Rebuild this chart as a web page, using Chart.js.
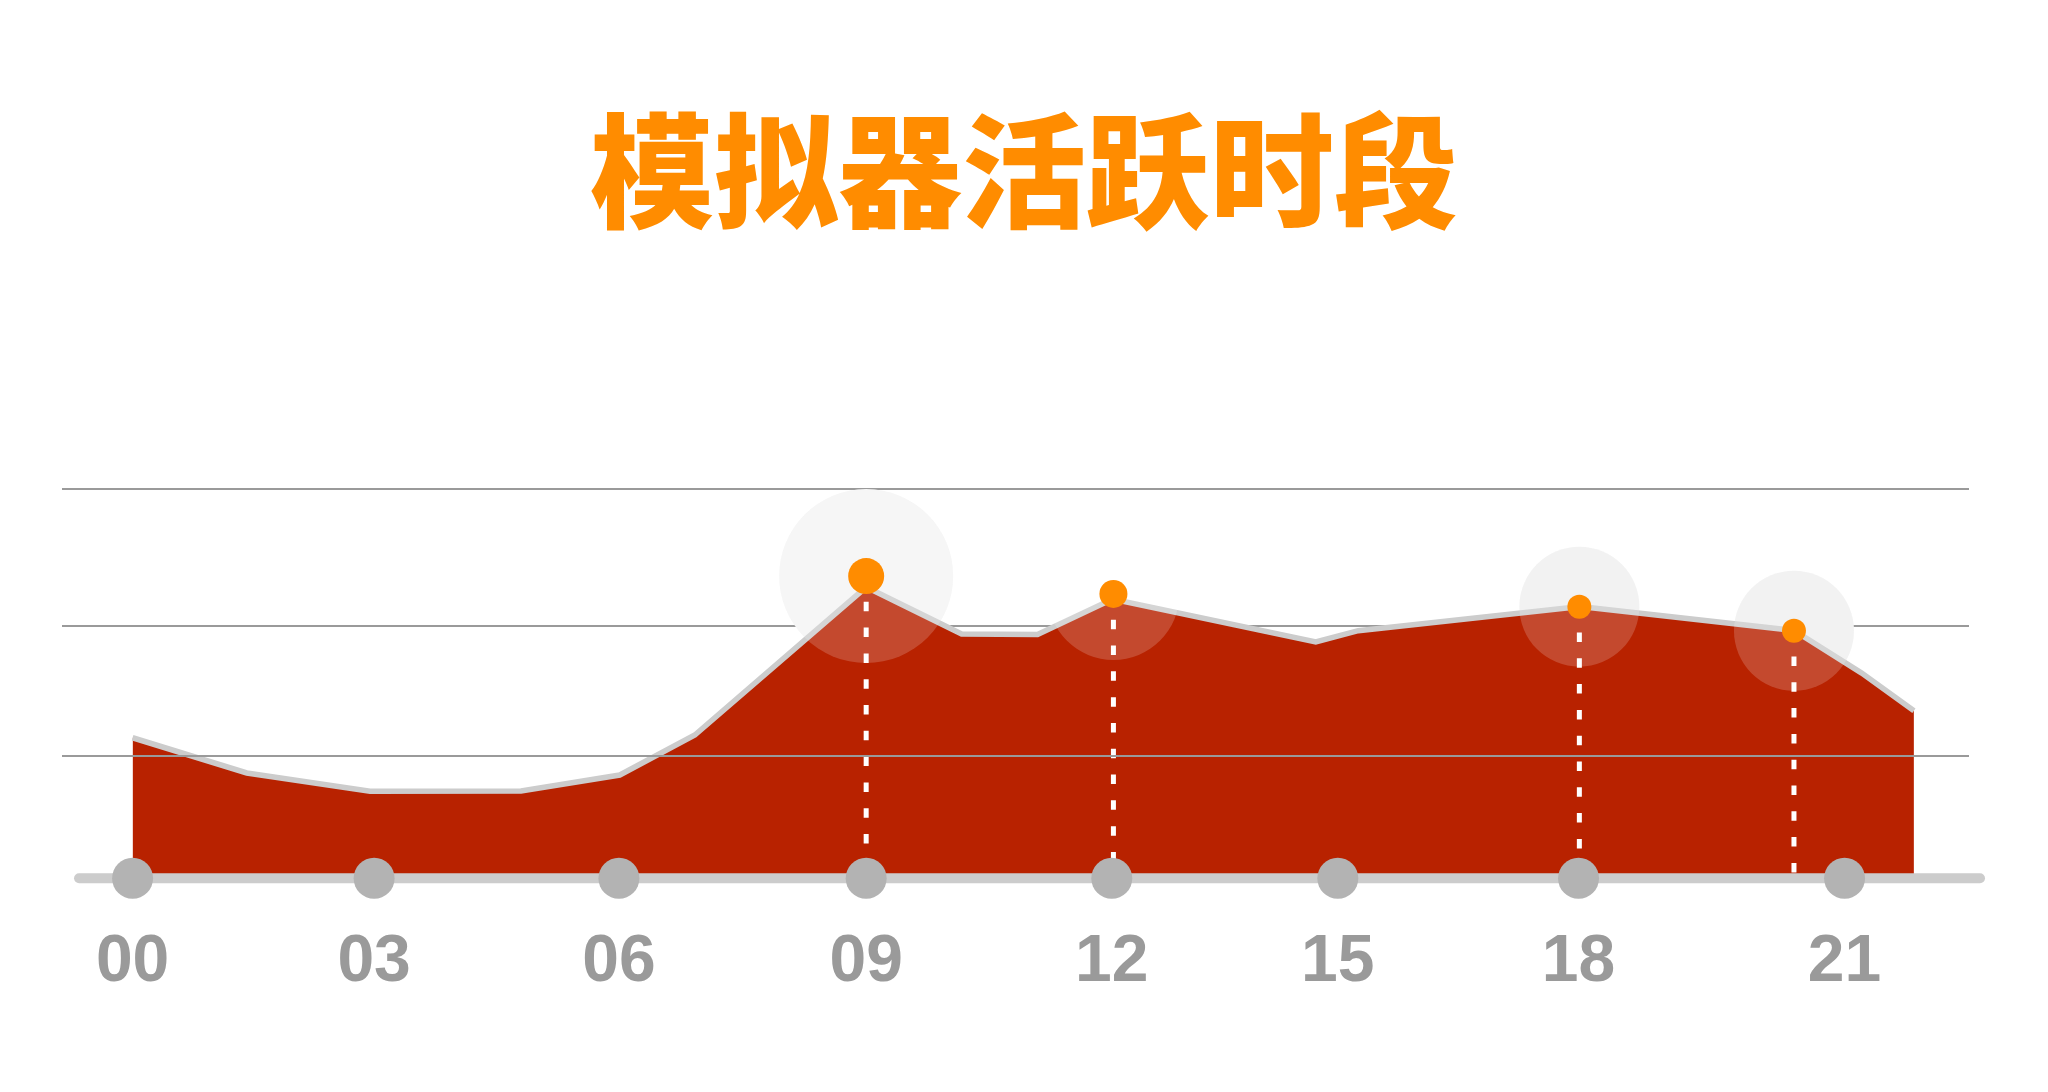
<!DOCTYPE html>
<html>
<head>
<meta charset="utf-8">
<title>模拟器活跃时段</title>
<script src="https://cdn.jsdelivr.net/npm/chart.js@4"></script>
<style>
    html, body { margin: 0; padding: 0; background: #fff; }
    #wrap { width: 2048px; height: 1092px; position: relative; }
</style>
</head>
<body>
<div id="wrap"><canvas id="activityChart"></canvas></div>
<script>
// Activity curve (hour of day -> activity level)
const hours = [0, 1.40, 2.91, 4.76, 5.97, 6.89, 8.99, 10.16, 11.09, 12.01, 14.50, 15.02, 17.74, 20.36, 21.19, 21.83];
const activity = [108.2, 81.1, 67.1, 67.2, 79.5, 110.3, 224.2, 188.1, 187.7, 215.0, 181.9, 190.6, 209.2, 190.8, 158.0, 129.0];

// Highlighted peaks
const peakHours = [8.99, 12.02, 17.73, 20.36];
const peakValues = [232.7, 218.9, 209.1, 190.6];

// Axis ticks
const tickHours = [0, 2.96, 5.96, 8.99, 12.0, 14.77, 17.72, 20.98];
const tickLabels = ["00", "03", "06", "09", "12", "15", "18", "21"];
const backGridValues = [194, 300];
const frontGridValues = [94];
const baselineHours = [-0.656, 22.64];

// Styles for the peak marks
const dotRadius = [18, 14, 12, 12];
const haloRadius = [87, 66, 60, 60];
const haloBack = ["#f4f4f4", "rgba(0,0,0,0)", "#f0f0f0", "#f0f0f0"];

const peakPoints = peakHours.map((h, i) => ({ x: h, y: peakValues[i] }));

// White dashed drop lines from each peak down to the baseline
const drops = peakHours.map((h, i) => ({
    type: "line",
    data: [{ x: h, y: peakValues[i] }, { x: h, y: 0 }],
    borderColor: "#ffffff",
    borderWidth: 5,
    borderDash: [9.5, 16.3],
    pointRadius: 0,
    fill: false,
    clip: false,
    order: 4
}));

const ctx = document.getElementById("activityChart").getContext("2d");

const chart = new Chart(ctx, {
    type: "line",
    data: {
        datasets: [
            {
                // gray circles on the baseline
                data: tickHours.map(h => ({ x: h, y: 0 })),
                showLine: false,
                pointRadius: 20.5,
                pointBackgroundColor: "#b3b3b3",
                pointBorderWidth: 0,
                clip: false,
                order: 1
            },
            {
                // thick baseline
                data: baselineHours.map(h => ({ x: h, y: 0 })),
                borderColor: "#cccccc",
                borderWidth: 10,
                borderCapStyle: "round",
                pointRadius: 0,
                fill: false,
                clip: false,
                order: 2
            },
            {
                // orange peak dots
                data: peakPoints,
                showLine: false,
                pointRadius: dotRadius,
                pointBackgroundColor: "#ff8c00",
                pointBorderWidth: 0,
                clip: false,
                order: 3
            },
            ...drops,
            {
                // light overlay of the halos on top of the area
                data: peakPoints,
                showLine: false,
                pointRadius: haloRadius,
                pointBackgroundColor: "rgba(255,255,255,0.18)",
                pointBorderWidth: 0,
                clip: false,
                order: 5
            },
            {
                // activity area
                data: hours.map((h, i) => ({ x: h, y: activity[i] })),
                borderColor: "#cccccc",
                borderWidth: 5.5,
                backgroundColor: "#b82200",
                fill: "origin",
                tension: 0,
                pointRadius: 0,
                clip: false,
                order: 6
            },
            {
                // gray halo behind the area
                data: peakPoints,
                showLine: false,
                pointRadius: haloRadius,
                pointBackgroundColor: haloBack,
                pointBorderWidth: 0,
                clip: false,
                order: 7
            }
        ]
    },
    options: {
        responsive: true,
        maintainAspectRatio: false,
        animation: false,
        events: [],
        layout: { padding: 0, autoPadding: false },
        plugins: {
            legend: { display: false },
            tooltip: { enabled: false },
            title: {
                display: true,
                text: "模拟器活跃时段",
                color: "#ff8c00",
                font: { family: "'Noto Sans CJK SC', sans-serif", size: 124, weight: "900", lineHeight: 1.2 },
                padding: { top: 96.1, bottom: 243.7 }
            }
        },
        scales: {
            x: {
                type: "linear",
                min: -0.865,
                max: 22.505,
                grid: { display: false, drawTicks: false },
                border: { display: false },
                ticks: {
                    color: "#9a9a9a",
                    font: { family: "'Liberation Sans', Arial, sans-serif", size: 66, weight: "bold", lineHeight: 1 },
                    padding: 51,
                    autoSkip: false,
                    maxRotation: 0,
                    callback: (v, i) => tickLabels[i]
                },
                afterBuildTicks: s => { s.ticks = tickHours.map(v => ({ value: v })); },
                afterFit: s => { s.height = 213.7; }
            },
            y: {
                position: "left",
                min: 0,
                max: 300,
                grid: { color: "#9a9a9a", lineWidth: 2, drawTicks: false },
                border: { display: false },
                ticks: { display: false },
                afterBuildTicks: s => { s.ticks = backGridValues.map(v => ({ value: v })); },
                afterFit: s => { s.width = 62; }
            },
            y2: {
                position: "right",
                min: 0,
                max: 300,
                grid: { color: "#9a9a9a", lineWidth: 2, drawTicks: false, z: 1 },
                border: { display: false },
                ticks: { display: false },
                afterBuildTicks: s => { s.ticks = frontGridValues.map(v => ({ value: v })); },
                afterFit: s => { s.width = 79; }
            }
        }
    }
});
</script>
</body>
</html>
